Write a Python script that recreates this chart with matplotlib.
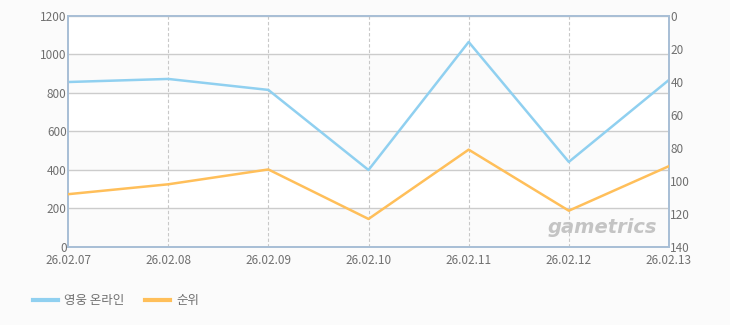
import matplotlib
matplotlib.use('Agg')
import matplotlib.pyplot as plt

plt.rcParams['font.family'] = ['Noto Sans CJK KR', 'DejaVu Sans']

# 데이터
fechas = ['26.02.07', '26.02.08', '26.02.09', '26.02.10', '26.02.11', '26.02.12', '26.02.13']
usuarios = [857, 873, 816, 400, 1065, 442, 868]
ranking = [108, 102, 93, 123, 81, 118, 91]
serie_nombres = ['영웅 온라인', '순위']

azul = '#90d0f0'
naranja = '#ffbf5a'
borde = '#a9bfd6'
gris_txt = '#707070'

fig = plt.figure(figsize=(7.3, 3.25), dpi=100)
fig.patch.set_facecolor('#fbfbfb')
ax1 = fig.add_axes([0.0932, 0.24, 0.8232, 0.7108])
ax1.set_facecolor('white')

x = list(range(len(fechas)))

# bandas alternas
for i, y0 in enumerate(range(0, 1200, 200)):
    if i % 2 == 0:
        ax1.axhspan(y0, y0 + 200, color='#fbfbfb', zorder=0, lw=0)

ax1.set_ylim(0, 1200)
ax1.set_xlim(0, len(fechas) - 1)
ax1.set_yticks(range(0, 1201, 200))
ax1.set_xticks(x)
ax1.set_xticklabels(fechas)
ax1.grid(True, axis='y', color='#cccccc', linewidth=1, zorder=1)
for xi in x[1:-1]:
    ax1.axvline(xi, color='#c8c8c8', linestyle=(0, (3, 2)), linewidth=0.8, zorder=1)

l1, = ax1.plot(x, usuarios, color=azul, linewidth=1.8, zorder=3)

ax2 = ax1.twinx()
ax2.set_ylim(140, 0)
ax2.set_yticks(range(0, 141, 20))
l2, = ax2.plot(x, ranking, color=naranja, linewidth=1.8, zorder=3)

for ax in (ax1, ax2):
    for s in ax.spines.values():
        s.set_color(borde)
        s.set_linewidth(1.4)
    ax.tick_params(length=0, labelsize=8.5, colors=gris_txt, pad=1)

ax1.tick_params(axis='x', pad=5)

# marca de agua
ax1.text(5.88, 100, 'gametrics', fontsize=14, color='#c4c4c4', style='italic',
         fontweight='bold', ha='right', va='center', family='DejaVu Sans', zorder=2)

fig.legend([l1, l2], serie_nombres, loc='lower left', bbox_to_anchor=(0.03, 0.02),
           ncol=2, frameon=False, fontsize=9, labelcolor=gris_txt,
           handlelength=2.0, columnspacing=1.6, handletextpad=0.5)
for h in fig.legends[0].get_lines():
    h.set_linewidth(3)

plt.savefig('out.png', dpi=100, facecolor=fig.get_facecolor())
plt.close()
